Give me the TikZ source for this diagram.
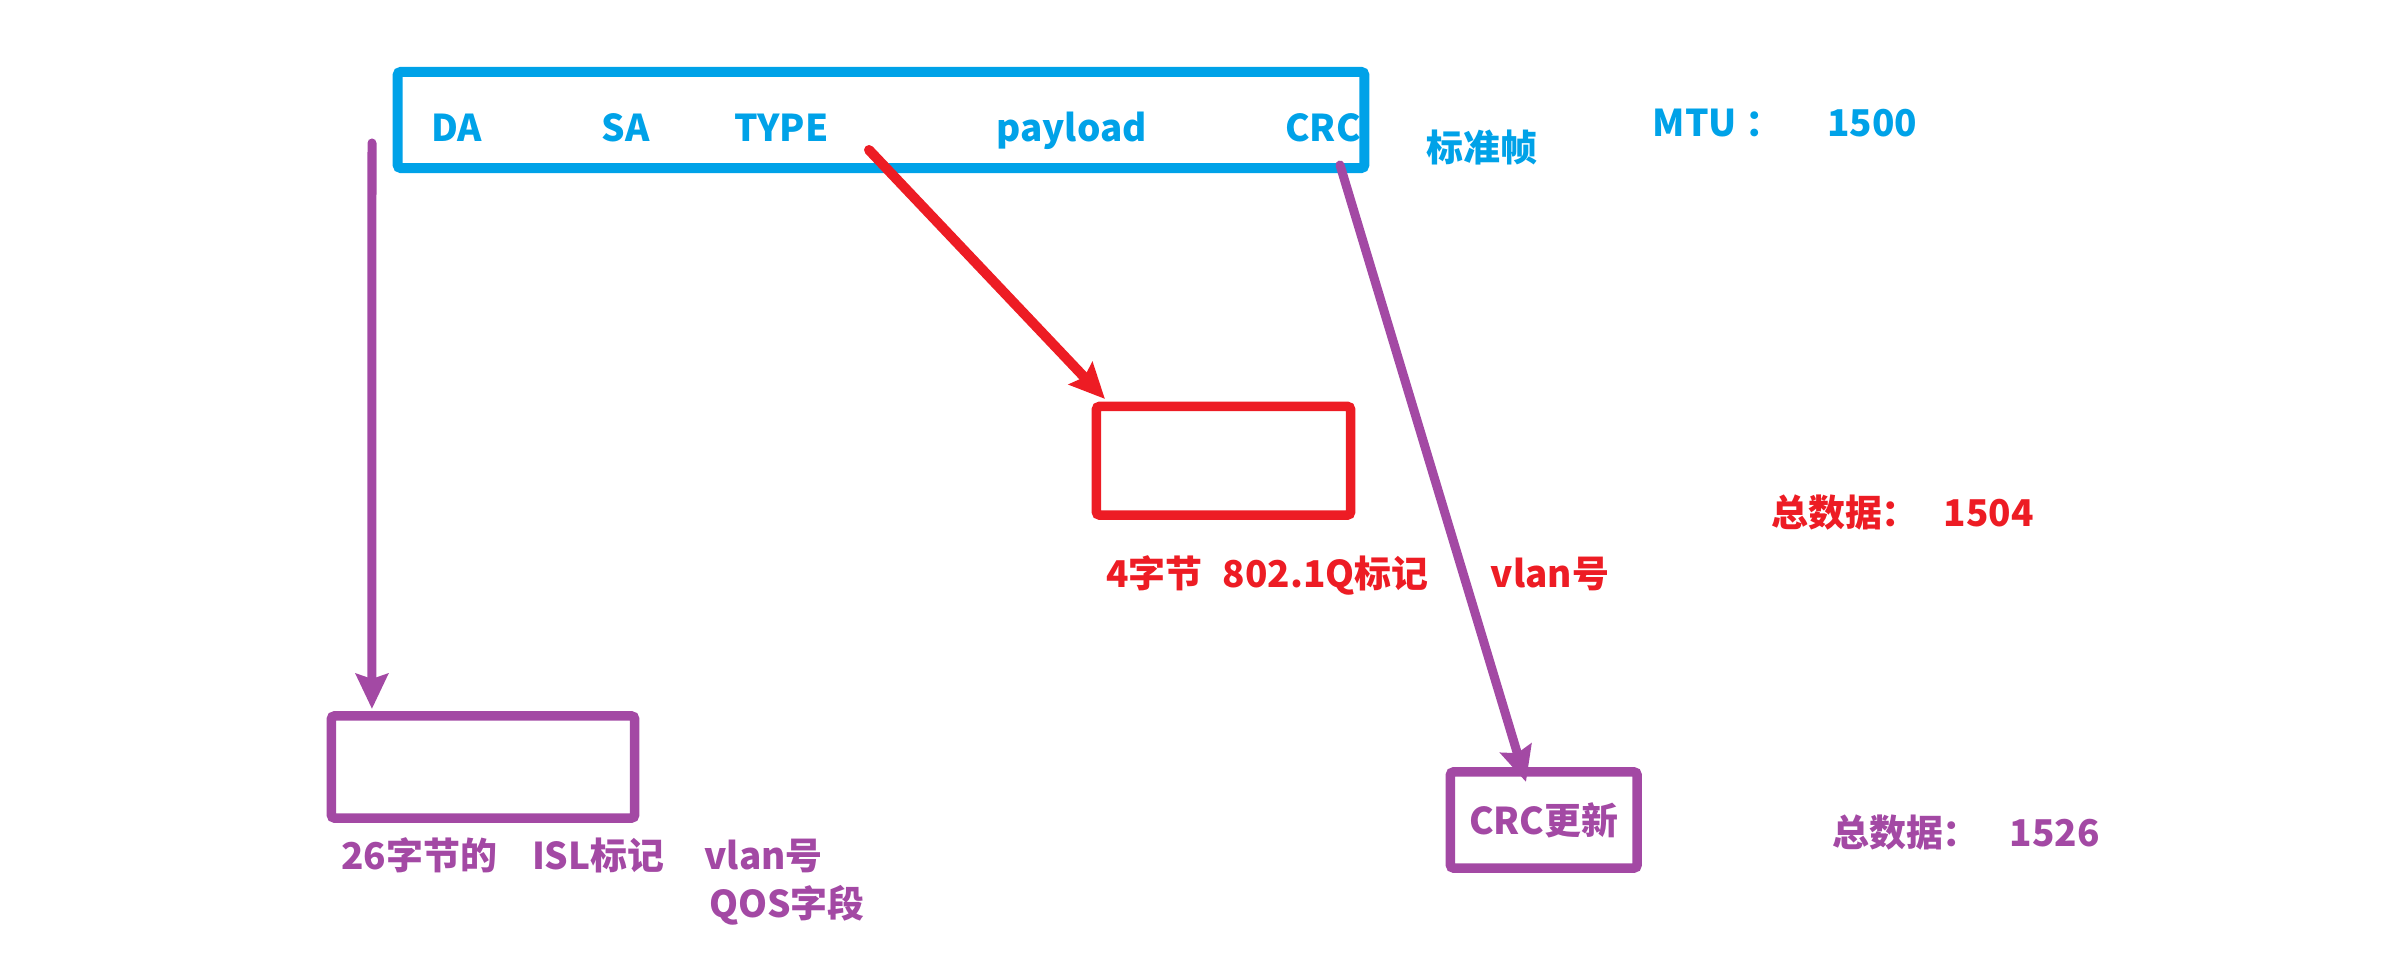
\documentclass[tikz,border=0pt]{standalone}
\usepackage{fontspec}
\newfontfamily\cjk{Noto Sans CJK SC}
\usetikzlibrary{arrows.meta}
\definecolor{bleu}{RGB}{0,162,232}
\definecolor{rouge}{RGB}{237,28,36}
\definecolor{mauve}{RGB}{163,73,164}
\begin{document}
\begin{tikzpicture}[x=0.01cm, y=-0.01cm,
  every node/.style={font=\cjk\bfseries\fontsize{10.5}{12}\selectfont, inner sep=0pt},
  cadre/.style={draw, line width=0.095cm, rounded corners=0.03cm, outer sep=0pt},
  fleche/.style={line width=0.09cm, line cap=round, -{Stealth[length=0.35cm, width=0.32cm, inset=0.05cm]}}]
  \useasboundingbox (0,0) rectangle (2399,965);

  % Trame standard
  \node[cadre, draw=bleu, line width=0.1cm, minimum width=9.66cm, minimum height=0.96cm] (trame) at (881,120) {};
  \node[anchor=base, text=bleu] (da) at (456.5,141.5) {DA};
  \node[anchor=base, text=bleu] (sa) at (625.5,141.5) {SA};
  \node[anchor=base, text=bleu] (type) at (781.5,141.5) {TYPE};
  \node[anchor=base, text=bleu] (payload) at (1071.5,141.5) {payload};
  \node[anchor=base, text=bleu] (crc) at (1323,141.5) {CRC};
  \node[anchor=base, text=bleu] (std) at (1482,162) {标准帧};
  \node[anchor=base, text=bleu] (mtu) at (1785,137) {MTU ：\hspace{0.45cm}1500};

  % Etiquette 802.1Q
  \node[cadre, draw=rouge, minimum width=2.54cm, minimum height=1.085cm] (tag) at (1223.5,460.75) {};
  \node[anchor=base, text=rouge] (taglbl) at (1267.5,588) {4字节\hspace{0.2cm}802.1Q标记};
  \node[anchor=base, text=rouge] (tagvlan) at (1550,588) {vlan号};
  \node[anchor=base, text=rouge] (tot1) at (1902.5,527) {总数据：\hspace{0.25cm}1504};

  % Etiquette ISL
  \node[cadre, draw=mauve, minimum width=3.03cm, minimum height=1.02cm] (isl) at (483,767) {};
  \node[anchor=base, text=mauve] (isllbl) at (582,870) {26字节的\hspace{0.35cm}ISL标记\hspace{0.4cm}vlan号};
  \node[anchor=base, text=mauve] (qos) at (787,918) {QOS字段};

  % CRC recalcule
  \node[cadre, draw=mauve, text=mauve, minimum width=1.865cm, minimum height=0.96cm] (crcnew) at (1543.75,820) {CRC更新};
  \node[anchor=base, text=mauve] (tot2) at (1966,847) {总数据：\hspace{0.3cm}1526};

  % Fleches
  \coordinate (depr) at (869,150);
  \coordinate (depg) at (372,143);
  \coordinate (depd) at (1340,165);
  \draw[fleche, rouge, line width=0.1cm] (depr) -- ([xshift=0.085cm, yshift=0.075cm]tag.north west);
  \draw[fleche, mauve] (depg) -- ([xshift=0.405cm, yshift=0.07cm]isl.north west);
  \draw[fleche, mauve] (depd) -- ([xshift=0.755cm, yshift=-0.1cm]crcnew.north west);
\end{tikzpicture}
\end{document}
